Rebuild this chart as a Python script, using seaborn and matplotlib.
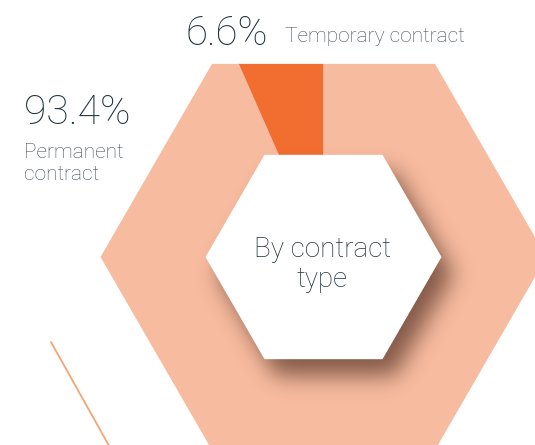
import numpy as np
import matplotlib
matplotlib.use("Agg")
import matplotlib.pyplot as plt
from matplotlib.patches import Polygon
from matplotlib.path import Path
import seaborn as sns

# data
categories = ["Temporary contract", "Permanent contract"]
shares = [6.6, 93.4]
share_labels = ["6.6%", "93.4%"]
centre_label = "By contract\ntype"

sns.set_theme(style="white")
plt.rcParams['font.family'] = ['Roboto', 'DejaVu Sans']

peach = "#f7bb9f"
orange = "#f26d30"
num_color = "#1f323c"
lab_color = "#43505a"

W, H = 535, 445
fig = plt.figure(figsize=(W / 100, H / 100), dpi=100)
ax = fig.add_axes([0, 0, 1, 1])

cx, cy = 323.5, 257
R_out, R_in = 223, 118


def hexagon(x0, y0, r):
    ang = np.radians(np.arange(0, 360, 60))
    return np.column_stack([x0 + r * np.cos(ang), y0 - r * np.sin(ang)])


outer = Polygon(hexagon(cx, cy, R_out), closed=True, facecolor="white", edgecolor="none", zorder=1)
ax.add_patch(outer)

# slices, counter-clockwise from 12 o'clock
slice_colors = [orange, peach]
start = 90.0
for share, col in zip(shares, slice_colors):
    sweep = 360.0 * share / sum(shares)
    theta = np.radians(np.linspace(start, start + sweep, 80))
    pts = np.vstack([[cx, cy], np.column_stack([cx + 2 * R_out * np.cos(theta), cy - 2 * R_out * np.sin(theta)])])
    wedge = Polygon(pts, closed=True, facecolor=col, edgecolor=col, lw=0.5, zorder=2)
    ax.add_patch(wedge)
    wedge.set_clip_path(outer)
    start += sweep

# soft drop shadow of the centre hexagon
dx, dy, sigma = 12, 17, 11
yy, xx = np.mgrid[0:H, 0:W] + 0.5
inner_path = Path(hexagon(cx + dx, cy + dy, R_in))
mask = inner_path.contains_points(np.column_stack([xx.ravel(), yy.ravel()])).reshape(H, W).astype(float)
k = np.arange(-3 * sigma, 3 * sigma + 1)
kern = np.exp(-k ** 2 / (2 * sigma ** 2))
kern /= kern.sum()
blur = np.apply_along_axis(lambda r: np.convolve(r, kern, mode="same"), 1, mask)
blur = np.apply_along_axis(lambda c: np.convolve(c, kern, mode="same"), 0, blur)
rgba = np.zeros((H, W, 4))
rgba[..., :3] = (0.22, 0.1, 0.06)
rgba[..., 3] = blur * 0.6
im = ax.imshow(rgba, extent=(0, W, H, 0), zorder=3, interpolation="bilinear")
im.set_clip_path(outer)

ax.add_patch(Polygon(hexagon(cx, cy, R_in), closed=True, facecolor="white", edgecolor="none", zorder=4))

# decorative outline edge bottom-left
ax.plot([51, 117], [342, 460], color="#f4a476", lw=1.3, zorder=2)

# labels
ax.text(186, 45, share_labels[0], fontsize=29, fontweight="light", color=num_color, va="baseline", ha="left", zorder=5)
ax.text(285, 42, categories[0], fontsize=15, fontweight="light", color=lab_color, va="baseline", ha="left", zorder=5)
ax.text(24, 124, share_labels[1], fontsize=29.5, fontweight="light", color=num_color, va="baseline", ha="left", zorder=5)
ax.text(24, 180, categories[1].replace(" ", "\n"), fontsize=15, fontweight="light", color=lab_color,
        va="baseline", ha="left", linespacing=1.2, zorder=5)
ax.text(322, 287, centre_label, fontsize=20, fontweight="light", color=num_color, va="baseline", ha="center",
        linespacing=1.12, zorder=5)

ax.set_xlim(0, W)
ax.set_ylim(H, 0)
ax.axis("off")
fig.savefig("out.png", dpi=100, facecolor="white")
